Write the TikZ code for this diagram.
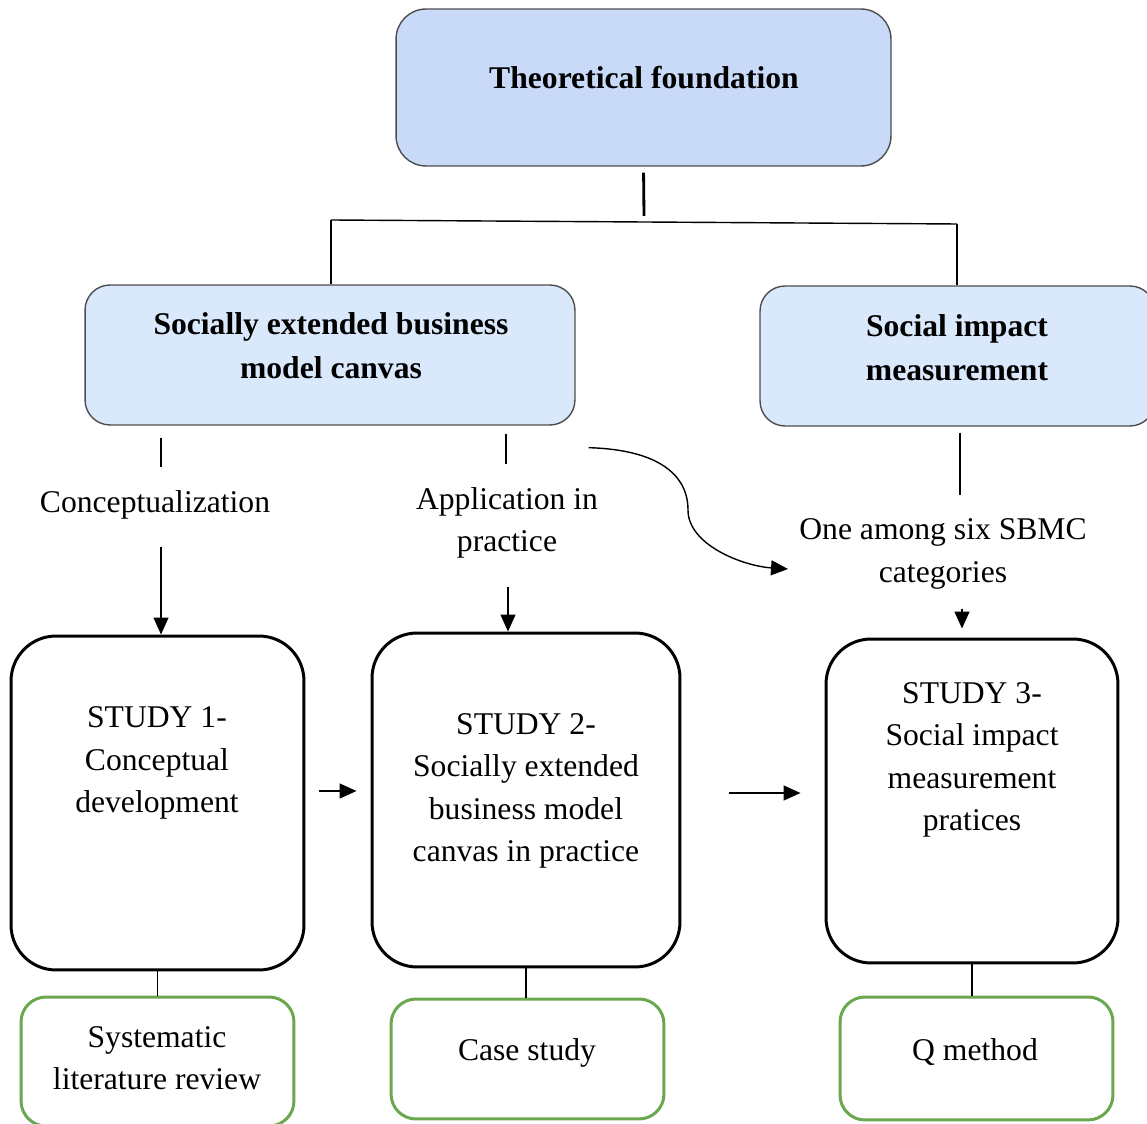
\documentclass[tikz,border=0pt]{standalone}
\usepackage{fontspec}
\setmainfont{Liberation Serif}
\usetikzlibrary{arrows.meta}

\definecolor{topblue}{HTML}{C9DAF8}
\definecolor{midblue}{HTML}{DAE8FC}
\definecolor{boxgray}{HTML}{4D4D4D}
\definecolor{methodgreen}{HTML}{6AA84F}

\tikzset{
  txt/.style={font=\fontsize{18}{24.2}\selectfont, align=center, inner sep=0pt},
  headbox/.style={draw=boxgray, line width=0.8pt, inner sep=0pt},
  studybox/.style={draw=black, line width=1.7pt, rounded corners=0.9cm, inner sep=0pt, minimum height=6.68cm},
  methodbox/.style={draw=methodgreen, line width=1.7pt, rounded corners=0.5cm, inner sep=0pt, minimum width=5.46cm},
  thinline/.style={draw=black, line width=0.8pt},
  thickline/.style={draw=black, line width=1.6pt},
  arr/.style={thinline, -{Triangle[length=0.34cm,width=0.3cm]}}
}

\begin{document}
\begin{tikzpicture}[x=0.02cm, y=-0.02cm]

\useasboundingbox (0,0) rectangle (1147,1124);

% Top level
\node [headbox, fill=topblue, rounded corners=0.6cm, minimum width=9.9cm, minimum height=3.14cm] (theory) at (643.5,87.5) {};
\node [txt, font=\fontsize{18}{25}\selectfont\bfseries] (theorytxt) at (644,78) {Theoretical foundation};

% Second level
\node [headbox, fill=midblue, rounded corners=0.5cm, minimum width=9.8cm, minimum height=2.8cm] (sebmc) at (330,355) {};
\node [txt, font=\fontsize{18}{25}\selectfont\bfseries] (sebmctxt) at (331,345.5) {Socially extended business\\model canvas};
\node [headbox, fill=midblue, rounded corners=0.5cm, minimum width=7.9cm, minimum height=2.8cm] (sim) at (957.5,356) {};
\node [txt, font=\fontsize{18}{25}\selectfont\bfseries] (simtxt) at (957,347.5) {Social impact\\measurement};

% Tree lines
\coordinate (hubT) at (644,216);
\coordinate (hubL) at (331,220);
\coordinate (hubR) at (957,224);
\draw [thickline, shorten <=0.12cm] (theory.south) -- (hubT);
\draw [thinline] (hubL) -- (hubR);
\draw [thickline] (hubL) -- (hubL |- sebmc.north);
\draw [thickline] (hubR) -- (hubR |- sim.north);

% Edge labels
\node [txt] (concept) at (155,505) {Conceptualization};
\node [txt] (apply) at (507,523) {Application in\\practice};
\node [txt] (among) at (943,554) {One among six SBMC\\categories};

% Study boxes
\node [studybox, minimum width=5.86cm] (study1) at (157.5,803) {};
\node [txt] (study1txt) at (157,763) {STUDY 1-\\Conceptual\\development};
\node [studybox, minimum width=6.16cm] (study2) at (526,800) {};
\node [txt] (study2txt) at (526,791) {STUDY 2-\\Socially extended\\business model\\canvas in practice};
\node [studybox, minimum width=5.84cm, minimum height=6.48cm] (study3) at (972,801) {};
\node [txt] (study3txt) at (972,760) {STUDY 3-\\Social impact\\measurement\\pratices};

% Method boxes
\node [methodbox, minimum height=2.58cm] (method1) at (157.5,1061.5) {};
\node [txt] (method1txt) at (157,1058) {Systematic\\literature review};
\node [methodbox, minimum height=2.4cm] (method2) at (527.5,1059) {};
\node [txt] (method2txt) at (527,1053) {Case study};
\node [methodbox, minimum height=2.46cm] (method3) at (976.5,1058.5) {};
\node [txt] (method3txt) at (975,1052) {Q method};

% Connectors to the studies
\draw [thinline, shorten <=0.24cm, shorten >=0.46cm] (sebmc.south -| 161,0) -- (concept.north -| 161,0);
\draw [arr, shorten <=0.54cm] (concept.south -| 161,0) -- (study1.north -| 161,0);
\draw [thinline, shorten <=0.16cm, shorten >=0.46cm] (sebmc.south -| 506,0) -- (apply.north -| 506,0);
\draw [arr, shorten <=0.56cm] (apply.south -| 508,0) -- (study2.north -| 508,0);
\draw [thinline, shorten <=0.12cm, shorten >=0.48cm] (sim.south -| 960,0) -- (among.north -| 960,0);
\draw [arr, shorten <=0.4cm, shorten >=0.18cm] (among.south -| 962,0) -- (study3.north -| 962,0);

% Curved link to the SBMC categories
\coordinate (curveM) at (688,510);
\draw [arr] ([xshift=0.26cm, yshift=-0.44cm]sebmc.south east) .. controls +(70,2) and +(0,-35) .. (curveM) .. controls +(0,35) and +(-45,-3) .. ([xshift=-0.22cm, yshift=-0.3cm]among.west);

% Links between studies
\draw [arr, shorten <=0.28cm, shorten >=0.28cm] ([yshift=0.24cm]study1.east) -- ([yshift=0.24cm]study1.east -| study2.west);
\draw [arr, shorten <=0.96cm, shorten >=0.48cm] ([yshift=0.14cm]study2.east) -- ([yshift=0.14cm]study2.east -| study3.west);

% Studies to methods
\draw [thinline] (study1.south) -- (study1.south |- method1.north);
\draw [thinline] (study2.south) -- (study2.south |- method2.north);
\draw [thinline] (study3.south) -- (study3.south |- method3.north);

\end{tikzpicture}
\end{document}
